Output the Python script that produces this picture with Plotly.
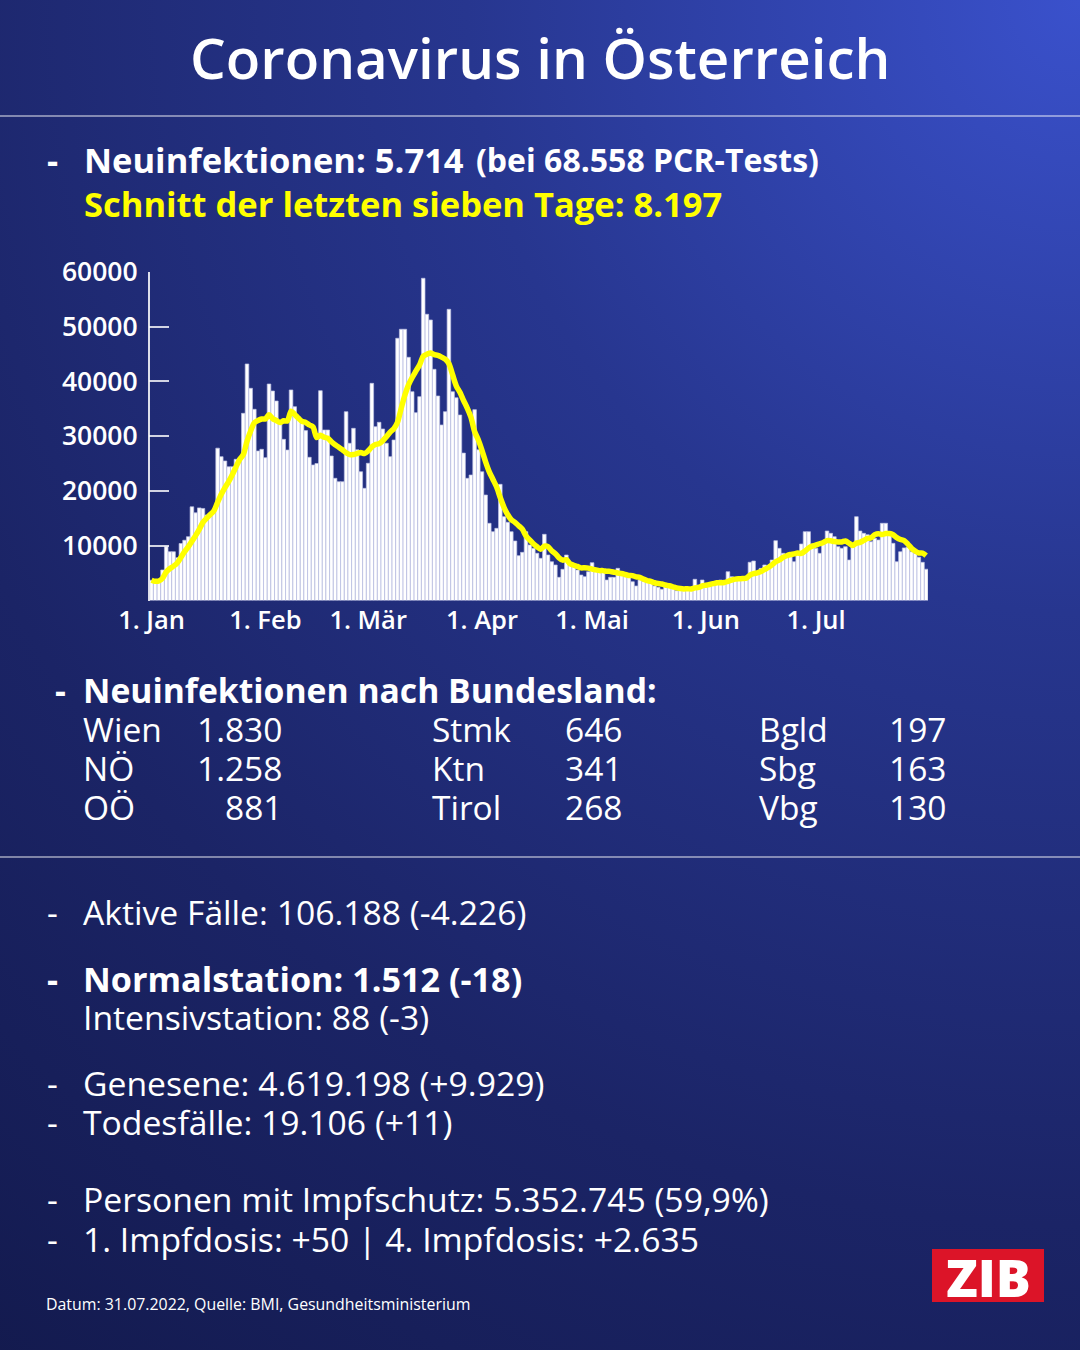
import base64
import pandas as pd
import plotly.graph_objects as go

# ---------------- data ----------------
cases_jan = [3700, 3300, 3700, 5570, 9820, 8900, 8900, 7800, 10400, 11000, 11650,
             17100, 16000, 16900, 16800, 15600, 15800, 16500, 27800, 26250, 25460,
             24400, 24400, 25770, 26000, 34160, 43160, 38720, 34890, 27280, 27590]
cases_feb = [26060, 39510, 38230, 36400, 32330, 29410, 27460, 38420, 35370, 33540,
             32300, 31000, 26130, 24730, 25000, 38290, 31110, 31110, 26370, 22300,
             21680, 21680, 34460, 28690, 31420, 27500, 23500, 20470]
cases_mar = [25040, 39630, 31720, 32520, 31300, 28690, 26250, 29290, 47850, 49500,
             49500, 44380, 38110, 34280, 37200, 58800, 52230, 51190, 42190, 37320,
             32030, 34460, 53140, 38110, 37000, 33850, 26900, 22300, 22900, 34830, 27500]
cases_apr = [23500, 19250, 14090, 12560, 13170, 21200, 15300, 14270, 12560, 10860,
             8180, 8790, 12560, 10130, 9520, 8610, 7700, 12080, 8300, 7080,
             6480, 4230, 5690, 8300, 6790, 6480, 5570, 4650, 4350, 5260]
cases_may = [6900, 5870, 5570, 5570, 3740, 4230, 4230, 5870, 5260, 4350,
             4350, 3430, 2650, 3740, 3500, 3500, 3200, 2650, 2400, 2040,
             2500, 2500, 2200, 1790, 1900, 1900, 2200, 2200, 3870, 2800, 3740]
cases_jun = [2830, 2830, 3200, 3430, 3740, 3130, 5260, 4350, 4200, 3740,
             3800, 4050, 6980, 7210, 5260, 5870, 6480, 6300, 7390, 10920,
             9520, 8610, 8000, 8000, 7080, 8610, 10310, 12560, 12560, 10310]
cases_jul = [9520, 8610, 10310, 12680, 12260, 11650, 9820, 9520, 9820, 7390,
             9800, 15300, 12680, 12260, 12000, 10730, 11350, 11040, 14090, 14090,
             12260, 10430, 7080, 8900, 9600, 9700, 8900, 8600, 7900, 6965, 5714]

start_date = "2022-01-01"
tick_dates = ["2022-01-01", "2022-02-01", "2022-03-01", "2022-04-01",
              "2022-05-01", "2022-06-01", "2022-07-01"]
tick_text = ["1. Jan", "1. Feb", "1. Mär", "1. Apr", "1. Mai", "1. Jun", "1. Jul"]
y_ticks = [10000, 20000, 30000, 40000, 50000, 60000]

bundesland_names = [["Wien", "NÖ", "OÖ"], ["Stmk", "Ktn", "Tirol"], ["Bgld", "Sbg", "Vbg"]]
bundesland_values = [["1.830", "1.258", "881"], ["646", "341", "268"], ["197", "163", "130"]]

# ---------------- build ----------------
cases = cases_jan + cases_feb + cases_mar + cases_apr + cases_may + cases_jun + cases_jul
dates = pd.date_range(start_date, periods=len(cases), freq="D")
avg7 = pd.Series(cases).rolling(7, min_periods=1).mean()

W, H = 1080, 1350
def px(x):
    return x / W
def py(y):
    return 1 - y / H

FONT = "Open Sans"
fig = go.Figure()
fig.add_trace(go.Bar(x=dates, y=cases,
                     marker=dict(color="white", line=dict(width=0.7, color="#bcc0e4")),
                     hoverinfo="skip"))
fig.add_trace(go.Scatter(x=dates, y=avg7, mode="lines",
                         line=dict(color="#ffff00", width=5.5, shape="spline", smoothing=0.8),
                         hoverinfo="skip"))

svg = ("<svg xmlns='http://www.w3.org/2000/svg' width='1080' height='1350'>"
       "<defs><radialGradient id='g' cx='1080' cy='0' r='1750' gradientUnits='userSpaceOnUse'>"
       "<stop offset='0' stop-color='#3a51cc'/><stop offset='0.35' stop-color='#27368f'/>"
       "<stop offset='0.7' stop-color='#1b2466'/><stop offset='1' stop-color='#131a4e'/>"
       "</radialGradient></defs><rect width='1080' height='1350' fill='url(#g)'/></svg>")
bg_src = "data:image/svg+xml;base64," + base64.b64encode(svg.encode()).decode()

x_left, x_right = 149.7, 928.0
y_top, y_bottom = 271.7, 600.5

fig.update_layout(
    width=W, height=H,
    margin=dict(l=0, r=0, t=0, b=0, autoexpand=False),
    paper_bgcolor="#1b2466", plot_bgcolor="rgba(0,0,0,0)",
    showlegend=False, bargap=0.02,
    images=[dict(source=bg_src, xref="paper", yref="paper", x=0, y=1, sizex=1, sizey=1,
                 xanchor="left", yanchor="top", sizing="stretch", layer="below")],
    xaxis=dict(domain=[px(x_left), px(x_right)], automargin=False,
               range=[pd.Timestamp("2021-12-31 12:00"), pd.Timestamp("2022-07-31 12:00")],
               tickvals=tick_dates, ticktext=tick_text, ticks="", showgrid=False,
               zeroline=False, showline=False, ticklabelstandoff=2,
               tickfont=dict(family=FONT, size=25.5, color="white", weight=600)),
    yaxis=dict(domain=[py(y_bottom), py(y_top)], range=[0, 60000], automargin=False,
               tickvals=y_ticks, ticktext=[str(v) for v in y_ticks],
               ticks="inside", ticklen=20, tickwidth=1.5, tickcolor="rgba(255,255,255,0.8)",
               showline=True, linecolor="rgba(255,255,255,0.85)", linewidth=1.5,
               showgrid=False, zeroline=False, ticklabelstandoff=5,
               tickfont=dict(family=FONT, size=26.5, color="white", weight=600)),
)

ann = []
PAD = 3
def text(x, y, s, size=33, weight=400, color="white", anchor="left"):
    if anchor == "left":
        x = x - PAD
    elif anchor == "right":
        x = x + PAD
    ann.append(dict(x=px(x), y=py(y), xref="paper", yref="paper", text=s, showarrow=False,
                    xanchor=anchor, yanchor="middle", borderpad=0,
                    font=dict(family=FONT, size=size, color=color, weight=weight)))

text(540, 57, "Coronavirus in Österreich", size=56.5, weight=600, anchor="center")
text(49, 160, "-", size=34.5, weight=700)
text(86, 160, "Neuinfektionen: 5.714", size=34.5, weight=700)
text(478, 160, "(bei 68.558 PCR-Tests)", size=32, weight=700)
text(86, 204, "Schnitt der letzten sieben Tage: 8.197", size=34.5, weight=700, color="#ffff00")

text(57, 690, "-", size=33.7, weight=700)
text(85, 690, "Neuinfektionen nach Bundesland:", size=33.7, weight=700)
row_y = [729, 768, 807]
name_x = [85, 434, 761]
value_x = [280, 620, 944]
for c in range(3):
    for r in range(3):
        text(name_x[c], row_y[r], bundesland_names[c][r], size=33.5)
        text(value_x[c], row_y[r], bundesland_values[c][r], size=33.5, anchor="right")

lines = [
    (912, "Aktive Fälle: 106.188 (-4.226)", 400, True),
    (978, "Normalstation: 1.512 (-18)", 700, True),
    (1017, "Intensivstation: 88 (-3)", 400, False),
    (1083, "Genesene: 4.619.198 (+9.929)", 400, True),
    (1122, "Todesfälle: 19.106 (+11)", 400, True),
    (1199, "Personen mit Impfschutz: 5.352.745 (59,9%)", 400, True),
    (1239, "1. Impfdosis: +50 | 4. Impfdosis: +2.635", 400, True),
]
for y, s, w, dash in lines:
    size = 34.2 if w == 700 else 33.7
    if dash:
        text(49, y, "-", size=size, weight=w)
    text(85, y, s, size=size, weight=w)

text(48, 1304, "Datum: 31.07.2022, Quelle: BMI, Gesundheitsministerium", size=15.9)
text(988, 1276, "ZIB", size=52, weight=800, anchor="center")

fig.update_layout(annotations=ann)

shapes = [
    dict(type="line", xref="paper", yref="paper", x0=0, x1=1, y0=py(116), y1=py(116),
         line=dict(color="rgba(255,255,255,0.9)", width=1.2)),
    dict(type="line", xref="paper", yref="paper", x0=0, x1=1, y0=py(857), y1=py(857),
         line=dict(color="rgba(255,255,255,0.9)", width=1.2)),
    dict(type="rect", xref="paper", yref="paper", x0=px(932), x1=px(1044), y0=py(1302), y1=py(1249),
         fillcolor="#dc1428", line=dict(width=0), layer="below"),
]
fig.update_layout(shapes=shapes)

fig.write_html("out.html", config={"displayModeBar": False},
               post_script="document.body.style.margin='0';")
